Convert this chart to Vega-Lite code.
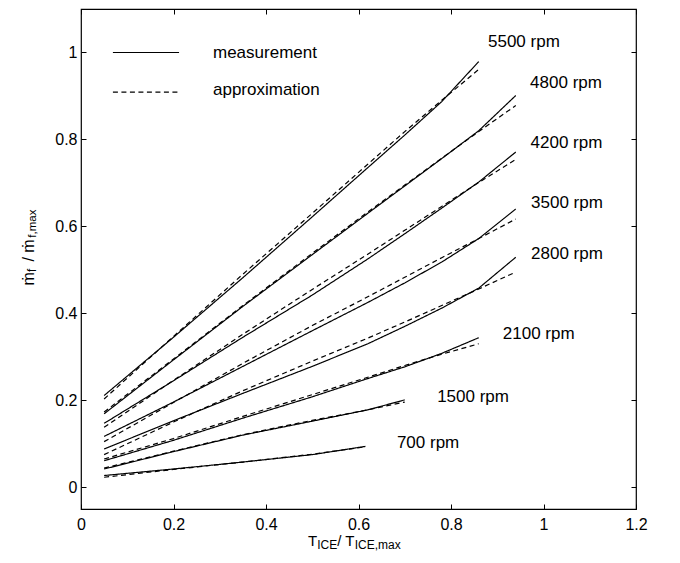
{
  "$schema": "https://vega.github.io/schema/vega-lite/v6.json",
  "description": "Normalised fuel flow vs normalised ICE torque, measurement and approximation per engine speed.",
  "width": 555,
  "height": 500,
  "autosize": {"type": "none"},
  "padding": {"left": 81, "top": 9, "right": 44, "bottom": 54},
  "datasets": {
    "curves": [
      {"rpm": 5500, "type": "measurement", "torque": 0.05, "fuel": 0.211},
      {"rpm": 5500, "type": "measurement", "torque": 0.2, "fuel": 0.345},
      {"rpm": 5500, "type": "measurement", "torque": 0.35, "fuel": 0.482},
      {"rpm": 5500, "type": "measurement", "torque": 0.5, "fuel": 0.622},
      {"rpm": 5500, "type": "measurement", "torque": 0.62, "fuel": 0.735},
      {"rpm": 5500, "type": "measurement", "torque": 0.7, "fuel": 0.81},
      {"rpm": 5500, "type": "measurement", "torque": 0.78, "fuel": 0.887},
      {"rpm": 5500, "type": "measurement", "torque": 0.86, "fuel": 0.979},
      {"rpm": 5500, "type": "approximation", "torque": 0.05, "fuel": 0.203},
      {"rpm": 5500, "type": "approximation", "torque": 0.2, "fuel": 0.347},
      {"rpm": 5500, "type": "approximation", "torque": 0.35, "fuel": 0.49},
      {"rpm": 5500, "type": "approximation", "torque": 0.5, "fuel": 0.63},
      {"rpm": 5500, "type": "approximation", "torque": 0.62, "fuel": 0.743},
      {"rpm": 5500, "type": "approximation", "torque": 0.7, "fuel": 0.818},
      {"rpm": 5500, "type": "approximation", "torque": 0.78, "fuel": 0.89},
      {"rpm": 5500, "type": "approximation", "torque": 0.86, "fuel": 0.961},
      {"rpm": 4800, "type": "measurement", "torque": 0.05, "fuel": 0.169},
      {"rpm": 4800, "type": "measurement", "torque": 0.2, "fuel": 0.293},
      {"rpm": 4800, "type": "measurement", "torque": 0.35, "fuel": 0.416},
      {"rpm": 4800, "type": "measurement", "torque": 0.5, "fuel": 0.535},
      {"rpm": 4800, "type": "measurement", "torque": 0.62, "fuel": 0.63},
      {"rpm": 4800, "type": "measurement", "torque": 0.7, "fuel": 0.693},
      {"rpm": 4800, "type": "measurement", "torque": 0.78, "fuel": 0.756},
      {"rpm": 4800, "type": "measurement", "torque": 0.86, "fuel": 0.82},
      {"rpm": 4800, "type": "measurement", "torque": 0.94, "fuel": 0.901},
      {"rpm": 4800, "type": "approximation", "torque": 0.05, "fuel": 0.173},
      {"rpm": 4800, "type": "approximation", "torque": 0.2, "fuel": 0.295},
      {"rpm": 4800, "type": "approximation", "torque": 0.35, "fuel": 0.418},
      {"rpm": 4800, "type": "approximation", "torque": 0.5, "fuel": 0.538},
      {"rpm": 4800, "type": "approximation", "torque": 0.62, "fuel": 0.633},
      {"rpm": 4800, "type": "approximation", "torque": 0.7, "fuel": 0.695},
      {"rpm": 4800, "type": "approximation", "torque": 0.78, "fuel": 0.757},
      {"rpm": 4800, "type": "approximation", "torque": 0.86, "fuel": 0.818},
      {"rpm": 4800, "type": "approximation", "torque": 0.94, "fuel": 0.878},
      {"rpm": 4200, "type": "measurement", "torque": 0.05, "fuel": 0.147},
      {"rpm": 4200, "type": "measurement", "torque": 0.2, "fuel": 0.245},
      {"rpm": 4200, "type": "measurement", "torque": 0.35, "fuel": 0.345},
      {"rpm": 4200, "type": "measurement", "torque": 0.5, "fuel": 0.442},
      {"rpm": 4200, "type": "measurement", "torque": 0.62, "fuel": 0.525},
      {"rpm": 4200, "type": "measurement", "torque": 0.7, "fuel": 0.583},
      {"rpm": 4200, "type": "measurement", "torque": 0.78, "fuel": 0.642},
      {"rpm": 4200, "type": "measurement", "torque": 0.86, "fuel": 0.702},
      {"rpm": 4200, "type": "measurement", "torque": 0.94, "fuel": 0.771},
      {"rpm": 4200, "type": "approximation", "torque": 0.05, "fuel": 0.138},
      {"rpm": 4200, "type": "approximation", "torque": 0.2, "fuel": 0.246},
      {"rpm": 4200, "type": "approximation", "torque": 0.35, "fuel": 0.352},
      {"rpm": 4200, "type": "approximation", "torque": 0.5, "fuel": 0.455},
      {"rpm": 4200, "type": "approximation", "torque": 0.62, "fuel": 0.536},
      {"rpm": 4200, "type": "approximation", "torque": 0.7, "fuel": 0.591},
      {"rpm": 4200, "type": "approximation", "torque": 0.78, "fuel": 0.646},
      {"rpm": 4200, "type": "approximation", "torque": 0.86, "fuel": 0.701},
      {"rpm": 4200, "type": "approximation", "torque": 0.94, "fuel": 0.754},
      {"rpm": 3500, "type": "measurement", "torque": 0.05, "fuel": 0.117},
      {"rpm": 3500, "type": "measurement", "torque": 0.2, "fuel": 0.196},
      {"rpm": 3500, "type": "measurement", "torque": 0.35, "fuel": 0.278},
      {"rpm": 3500, "type": "measurement", "torque": 0.5, "fuel": 0.36},
      {"rpm": 3500, "type": "measurement", "torque": 0.62, "fuel": 0.425},
      {"rpm": 3500, "type": "measurement", "torque": 0.7, "fuel": 0.47},
      {"rpm": 3500, "type": "measurement", "torque": 0.78, "fuel": 0.518},
      {"rpm": 3500, "type": "measurement", "torque": 0.86, "fuel": 0.572},
      {"rpm": 3500, "type": "measurement", "torque": 0.94, "fuel": 0.64},
      {"rpm": 3500, "type": "approximation", "torque": 0.05, "fuel": 0.105},
      {"rpm": 3500, "type": "approximation", "torque": 0.2, "fuel": 0.195},
      {"rpm": 3500, "type": "approximation", "torque": 0.35, "fuel": 0.285},
      {"rpm": 3500, "type": "approximation", "torque": 0.5, "fuel": 0.372},
      {"rpm": 3500, "type": "approximation", "torque": 0.62, "fuel": 0.438},
      {"rpm": 3500, "type": "approximation", "torque": 0.7, "fuel": 0.483},
      {"rpm": 3500, "type": "approximation", "torque": 0.78, "fuel": 0.528},
      {"rpm": 3500, "type": "approximation", "torque": 0.86, "fuel": 0.572},
      {"rpm": 3500, "type": "approximation", "torque": 0.94, "fuel": 0.617},
      {"rpm": 2800, "type": "measurement", "torque": 0.05, "fuel": 0.088},
      {"rpm": 2800, "type": "measurement", "torque": 0.2, "fuel": 0.153},
      {"rpm": 2800, "type": "measurement", "torque": 0.35, "fuel": 0.216},
      {"rpm": 2800, "type": "measurement", "torque": 0.5, "fuel": 0.278},
      {"rpm": 2800, "type": "measurement", "torque": 0.62, "fuel": 0.33},
      {"rpm": 2800, "type": "measurement", "torque": 0.7, "fuel": 0.37},
      {"rpm": 2800, "type": "measurement", "torque": 0.78, "fuel": 0.412},
      {"rpm": 2800, "type": "measurement", "torque": 0.86, "fuel": 0.458},
      {"rpm": 2800, "type": "measurement", "torque": 0.94, "fuel": 0.529},
      {"rpm": 2800, "type": "approximation", "torque": 0.05, "fuel": 0.075},
      {"rpm": 2800, "type": "approximation", "torque": 0.2, "fuel": 0.15},
      {"rpm": 2800, "type": "approximation", "torque": 0.35, "fuel": 0.222},
      {"rpm": 2800, "type": "approximation", "torque": 0.5, "fuel": 0.29},
      {"rpm": 2800, "type": "approximation", "torque": 0.62, "fuel": 0.343},
      {"rpm": 2800, "type": "approximation", "torque": 0.7, "fuel": 0.38},
      {"rpm": 2800, "type": "approximation", "torque": 0.78, "fuel": 0.418},
      {"rpm": 2800, "type": "approximation", "torque": 0.86, "fuel": 0.456},
      {"rpm": 2800, "type": "approximation", "torque": 0.94, "fuel": 0.495},
      {"rpm": 2100, "type": "measurement", "torque": 0.05, "fuel": 0.061},
      {"rpm": 2100, "type": "measurement", "torque": 0.2, "fuel": 0.108},
      {"rpm": 2100, "type": "measurement", "torque": 0.35, "fuel": 0.159},
      {"rpm": 2100, "type": "measurement", "torque": 0.5, "fuel": 0.208},
      {"rpm": 2100, "type": "measurement", "torque": 0.62, "fuel": 0.25},
      {"rpm": 2100, "type": "measurement", "torque": 0.7, "fuel": 0.277},
      {"rpm": 2100, "type": "measurement", "torque": 0.78, "fuel": 0.308},
      {"rpm": 2100, "type": "measurement", "torque": 0.86, "fuel": 0.344},
      {"rpm": 2100, "type": "approximation", "torque": 0.05, "fuel": 0.065},
      {"rpm": 2100, "type": "approximation", "torque": 0.2, "fuel": 0.112},
      {"rpm": 2100, "type": "approximation", "torque": 0.35, "fuel": 0.163},
      {"rpm": 2100, "type": "approximation", "torque": 0.5, "fuel": 0.213},
      {"rpm": 2100, "type": "approximation", "torque": 0.62, "fuel": 0.253},
      {"rpm": 2100, "type": "approximation", "torque": 0.7, "fuel": 0.28},
      {"rpm": 2100, "type": "approximation", "torque": 0.78, "fuel": 0.306},
      {"rpm": 2100, "type": "approximation", "torque": 0.86, "fuel": 0.33},
      {"rpm": 1500, "type": "measurement", "torque": 0.05, "fuel": 0.042},
      {"rpm": 1500, "type": "measurement", "torque": 0.2, "fuel": 0.082},
      {"rpm": 1500, "type": "measurement", "torque": 0.35, "fuel": 0.12},
      {"rpm": 1500, "type": "measurement", "torque": 0.5, "fuel": 0.152},
      {"rpm": 1500, "type": "measurement", "torque": 0.62, "fuel": 0.178},
      {"rpm": 1500, "type": "measurement", "torque": 0.7, "fuel": 0.201},
      {"rpm": 1500, "type": "approximation", "torque": 0.05, "fuel": 0.044},
      {"rpm": 1500, "type": "approximation", "torque": 0.2, "fuel": 0.083},
      {"rpm": 1500, "type": "approximation", "torque": 0.35, "fuel": 0.121},
      {"rpm": 1500, "type": "approximation", "torque": 0.5, "fuel": 0.154},
      {"rpm": 1500, "type": "approximation", "torque": 0.62, "fuel": 0.178},
      {"rpm": 1500, "type": "approximation", "torque": 0.7, "fuel": 0.196},
      {"rpm": 700, "type": "measurement", "torque": 0.05, "fuel": 0.027},
      {"rpm": 700, "type": "measurement", "torque": 0.2, "fuel": 0.042},
      {"rpm": 700, "type": "measurement", "torque": 0.35, "fuel": 0.058},
      {"rpm": 700, "type": "measurement", "torque": 0.5, "fuel": 0.075},
      {"rpm": 700, "type": "measurement", "torque": 0.615, "fuel": 0.094},
      {"rpm": 700, "type": "approximation", "torque": 0.05, "fuel": 0.023},
      {"rpm": 700, "type": "approximation", "torque": 0.2, "fuel": 0.041},
      {"rpm": 700, "type": "approximation", "torque": 0.35, "fuel": 0.058},
      {"rpm": 700, "type": "approximation", "torque": 0.5, "fuel": 0.076},
      {"rpm": 700, "type": "approximation", "torque": 0.615, "fuel": 0.093}
    ],
    "speedLabels": [
      {"label": "5500 rpm", "torque": 0.88, "fuel": 1.012},
      {"label": "4800 rpm", "torque": 0.971, "fuel": 0.919},
      {"label": "4200 rpm", "torque": 0.972, "fuel": 0.78},
      {"label": "3500 rpm", "torque": 0.973, "fuel": 0.643},
      {"label": "2800 rpm", "torque": 0.973, "fuel": 0.524},
      {"label": "2100 rpm", "torque": 0.912, "fuel": 0.341},
      {"label": "1500 rpm", "torque": 0.77, "fuel": 0.1955},
      {"label": "700 rpm", "torque": 0.683, "fuel": 0.0897}
    ]
  },
  "layer": [
    {
      "data": {"name": "curves"},
      "mark": {"type": "line", "color": "black", "strokeWidth": 1.2},
      "encoding": {
        "x": {
          "field": "torque", "type": "quantitative",
          "scale": {"domain": [0, 1.2], "nice": false, "zero": false},
          "axis": {"orient": "bottom", "values": [0, 0.2, 0.4, 0.6, 0.8, 1, 1.2], "format": "~g", "title": null, "labelPadding": 12.5}
        },
        "y": {
          "field": "fuel", "type": "quantitative",
          "scale": {"domain": [-0.05, 1.1], "nice": false, "zero": false},
          "axis": {"orient": "left", "values": [0, 0.2, 0.4, 0.6, 0.8, 1], "format": "~g", "title": null, "labelPadding": 9}
        },
        "detail": {"field": "rpm", "type": "nominal"},
        "strokeDash": {
          "field": "type", "type": "nominal",
          "scale": {"domain": ["measurement", "approximation"], "range": [[1, 0], [5, 3.5]]},
          "legend": null
        }
      }
    },
    {
      "data": {"name": "speedLabels"},
      "mark": {"type": "text", "align": "left", "baseline": "alphabetic", "fontSize": 17, "color": "black"},
      "encoding": {
        "x": {
          "field": "torque", "type": "quantitative",
          "scale": {"domain": [0, 1.2], "nice": false, "zero": false},
          "axis": {"orient": "top", "values": [0, 0.2, 0.4, 0.6, 0.8, 1, 1.2], "labels": false, "title": null}
        },
        "y": {
          "field": "fuel", "type": "quantitative",
          "scale": {"domain": [-0.05, 1.1], "nice": false, "zero": false},
          "axis": {"orient": "right", "values": [0, 0.2, 0.4, 0.6, 0.8, 1], "labels": false, "title": null}
        },
        "text": {"field": "label"}
      }
    },
    {
      "data": {"values": [{}]},
      "mark": {"type": "rule", "color": "black", "strokeWidth": 1.2},
      "encoding": {
        "x": {"datum": 0.069, "type": "quantitative", "axis": null},
        "x2": {"datum": 0.212},
        "y": {"datum": 1.0, "type": "quantitative", "axis": null}
      }
    },
    {
      "data": {"values": [{}]},
      "mark": {"type": "rule", "color": "black", "strokeWidth": 1.2, "strokeDash": [5, 3.5]},
      "encoding": {
        "x": {"datum": 0.069, "type": "quantitative", "axis": null},
        "x2": {"datum": 0.212},
        "y": {"datum": 0.9087, "type": "quantitative", "axis": null}
      }
    },
    {
      "data": {"values": [{}]},
      "mark": {"type": "text", "align": "left", "baseline": "alphabetic", "fontSize": 17, "color": "black", "text": "measurement"},
      "encoding": {
        "x": {"datum": 0.2854, "type": "quantitative", "axis": null},
        "y": {"datum": 0.988, "type": "quantitative", "axis": null}
      }
    },
    {
      "data": {"values": [{}]},
      "mark": {"type": "text", "align": "left", "baseline": "alphabetic", "fontSize": 17, "color": "black", "text": "approximation"},
      "encoding": {
        "x": {"datum": 0.2854, "type": "quantitative", "axis": null},
        "y": {"datum": 0.903, "type": "quantitative", "axis": null}
      }
    },
    {
      "data": {"values": [{}]},
      "mark": {"type": "text", "align": "left", "baseline": "alphabetic", "fontSize": 15, "color": "black", "text": "T"},
      "encoding": {
        "x": {"datum": 0.4908, "type": "quantitative", "axis": null},
        "y": {"datum": -0.1341, "type": "quantitative", "axis": null}
      }
    },
    {
      "data": {"values": [{}]},
      "mark": {"type": "text", "align": "left", "baseline": "alphabetic", "fontSize": 12, "color": "black", "text": "ICE"},
      "encoding": {
        "x": {"datum": 0.5107, "type": "quantitative", "axis": null},
        "y": {"datum": -0.141, "type": "quantitative", "axis": null}
      }
    },
    {
      "data": {"values": [{}]},
      "mark": {"type": "text", "align": "left", "baseline": "alphabetic", "fontSize": 15, "color": "black", "text": "/ T"},
      "encoding": {
        "x": {"datum": 0.5538, "type": "quantitative", "axis": null},
        "y": {"datum": -0.1341, "type": "quantitative", "axis": null}
      }
    },
    {
      "data": {"values": [{}]},
      "mark": {"type": "text", "align": "left", "baseline": "alphabetic", "fontSize": 12, "color": "black", "text": "ICE,max"},
      "encoding": {
        "x": {"datum": 0.5918, "type": "quantitative", "axis": null},
        "y": {"datum": -0.141, "type": "quantitative", "axis": null}
      }
    },
    {
      "data": {"values": [{}]},
      "mark": {"type": "text", "align": "left", "baseline": "alphabetic", "angle": 270, "fontSize": 16, "color": "black", "text": "ṁ"},
      "encoding": {
        "x": {"datum": -0.1027, "type": "quantitative", "axis": null},
        "y": {"datum": 0.464, "type": "quantitative", "axis": null}
      }
    },
    {
      "data": {"values": [{}]},
      "mark": {"type": "text", "align": "left", "baseline": "alphabetic", "angle": 270, "fontSize": 12, "color": "black", "text": "f"},
      "encoding": {
        "x": {"datum": -0.0975, "type": "quantitative", "axis": null},
        "y": {"datum": 0.495, "type": "quantitative", "axis": null}
      }
    },
    {
      "data": {"values": [{}]},
      "mark": {"type": "text", "align": "left", "baseline": "alphabetic", "angle": 270, "fontSize": 16, "color": "black", "text": "/ ṁ"},
      "encoding": {
        "x": {"datum": -0.1027, "type": "quantitative", "axis": null},
        "y": {"datum": 0.519, "type": "quantitative", "axis": null}
      }
    },
    {
      "data": {"values": [{}]},
      "mark": {"type": "text", "align": "left", "baseline": "alphabetic", "angle": 270, "fontSize": 11.5, "color": "black", "text": "f,max"},
      "encoding": {
        "x": {"datum": -0.0975, "type": "quantitative", "axis": null},
        "y": {"datum": 0.574, "type": "quantitative", "axis": null}
      }
    }
  ],
  "resolve": {"axis": {"x": "independent", "y": "independent"}},
  "config": {
    "font": "Liberation Sans",
    "view": {"stroke": "black", "strokeWidth": 1.2},
    "axis": {
      "grid": false,
      "domain": false,
      "tickSize": -5,
      "tickColor": "black",
      "tickWidth": 1,
      "labelFont": "Liberation Sans",
      "labelFontSize": 16,
      "labelColor": "black",
      "labelFlush": false,
      "labelOverlap": false
    }
  }
}
